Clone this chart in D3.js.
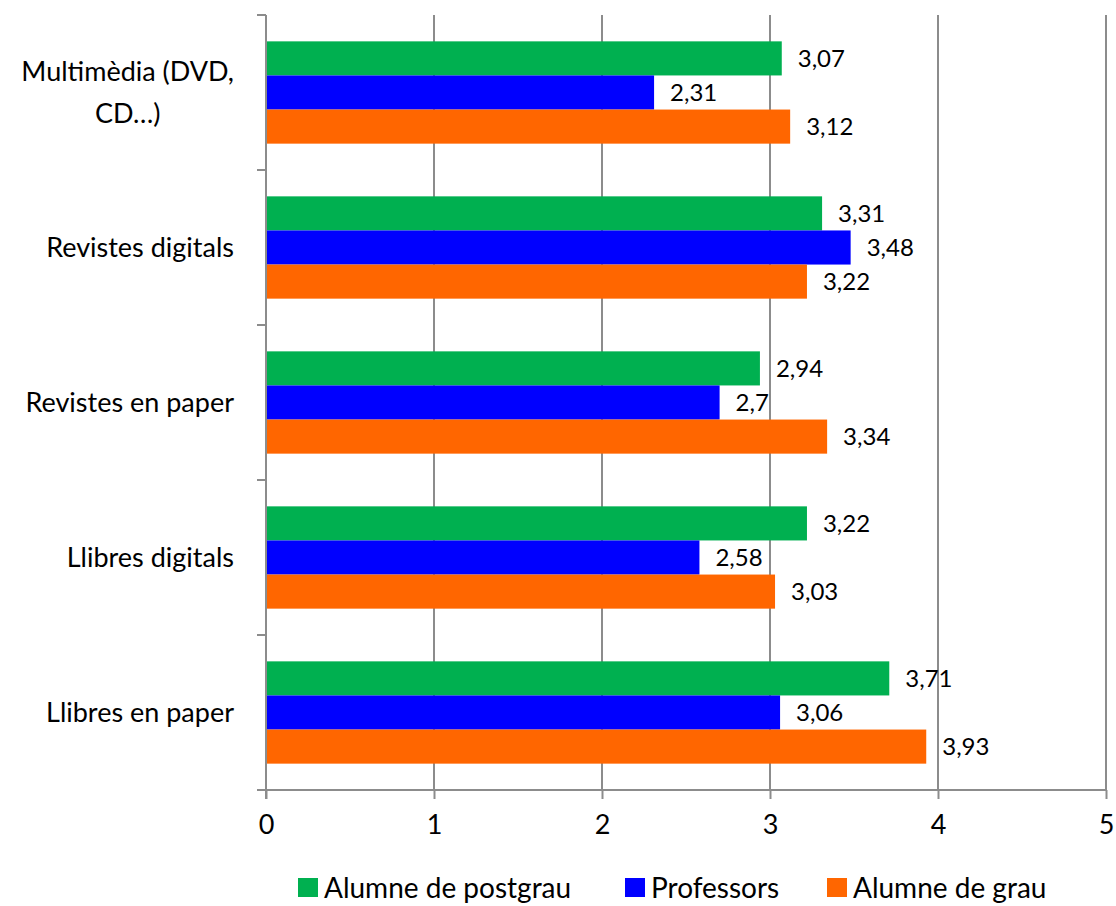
<!DOCTYPE html>
<html>
<head>
<meta charset="utf-8">
<script src="https://cdn.jsdelivr.net/npm/d3@7"></script>
<style>
  html, body { margin: 0; padding: 0; background: #fff; }
  svg { display: block; font-family: "Lato", "Open Sans", sans-serif; }
</style>
</head>
<body>
<svg id="chart" width="1116" height="906"></svg>
<script>
// Categories, top to bottom
const categories = [
  ["Multimèdia (DVD,", "CD…)"],
  ["Revistes digitals"],
  ["Revistes en paper"],
  ["Llibres digitals"],
  ["Llibres en paper"]
];
const seriesNames = ["Alumne de postgrau", "Professors", "Alumne de grau"];
const seriesColors = ["#00B050", "#0000FF", "#FF6600"];
const postgrau   = [3.07, 3.31, 2.94, 3.22, 3.71];
const professors = [2.31, 3.48, 2.70, 2.58, 3.06];
const grau       = [3.12, 3.22, 3.34, 3.03, 3.93];
const xTicks = [0, 1, 2, 3, 4, 5];

const series = [postgrau, professors, grau];
const catKeys = categories.map(c => c.join(" "));

const svg = d3.select("#chart");
const plot = { left: 266, right: 1106, top: 15, bottom: 790 };
const gridColor = "#8c8c8c";

const x = d3.scaleLinear().domain([0, 5]).range([plot.left, plot.right]);
const y = d3.scaleBand().domain(catKeys).range([plot.top, plot.bottom]);
const band = y.bandwidth();
const barH = band * 0.22;
const groupOffset = (band - barH * 3) / 2;

// Vertical gridlines
svg.append("g").selectAll("line")
  .data(xTicks.filter(t => t > 0))
  .join("line")
  .attr("x1", d => x(d)).attr("x2", d => x(d))
  .attr("y1", plot.top).attr("y2", plot.bottom)
  .attr("stroke", gridColor).attr("stroke-width", 2);

// Bars with value labels
const fmt = v => String(v).replace(".", ",");
series.forEach((vals, si) => {
  const g = svg.append("g");
  g.selectAll("rect")
    .data(vals)
    .join("rect")
    .attr("x", x(0) + 1)
    .attr("y", (d, i) => y(catKeys[i]) + groupOffset + si * barH)
    .attr("width", d => x(d) - x(0) - 1)
    .attr("height", barH)
    .attr("fill", seriesColors[si]);
  g.selectAll("text")
    .data(vals)
    .join("text")
    .attr("x", d => x(d) + 16)
    .attr("y", (d, i) => y(catKeys[i]) + groupOffset + si * barH + barH / 2)
    .attr("dy", "0.35em")
    .attr("font-size", 24)
    .attr("fill", "#000")
    .text(d => fmt(d));
});

// X axis
const xAxis = d3.axisBottom(x).tickValues(xTicks).tickSize(9).tickPadding(16).tickFormat(d3.format("d"));
const gx = svg.append("g").attr("transform", `translate(0,${plot.bottom})`).call(xAxis);
gx.select(".domain").remove();
gx.selectAll("line").attr("stroke", gridColor).attr("stroke-width", 2);
gx.selectAll("text").attr("font-size", 27).attr("fill", "#000").attr("font-family", "Lato, sans-serif");
svg.append("line")
  .attr("x1", plot.left - 9).attr("x2", plot.right)
  .attr("y1", plot.bottom).attr("y2", plot.bottom)
  .attr("stroke", gridColor).attr("stroke-width", 2);

// Y axis line and category boundary ticks
svg.append("line")
  .attr("x1", plot.left).attr("x2", plot.left)
  .attr("y1", plot.top).attr("y2", plot.bottom + 9)
  .attr("stroke", gridColor).attr("stroke-width", 2);
const boundaries = catKeys.map(k => y(k)).concat([plot.bottom]);
svg.append("g").selectAll("line")
  .data(boundaries)
  .join("line")
  .attr("x1", plot.left - 9).attr("x2", plot.left)
  .attr("y1", d => d).attr("y2", d => d)
  .attr("stroke", gridColor).attr("stroke-width", 2);

// Category labels (right aligned block, lines centred)
const labelRight = 234;
const lineGap = 42;
categories.forEach((lines, i) => {
  const cy = y(catKeys[i]) + band / 2;
  const g = svg.append("g");
  const texts = lines.map((ln, li) => g.append("text")
    .attr("y", cy + (li - (lines.length - 1) / 2) * lineGap)
    .attr("dy", "0.35em")
    .attr("font-size", 27)
    .attr("fill", "#000")
    .attr("text-anchor", "middle")
    .text(ln));
  const maxW = d3.max(texts, t => t.node().getComputedTextLength());
  texts.forEach(t => t.attr("x", labelRight - maxW / 2));
});

// Legend along the bottom edge
const legendX = [298, 625, 827];
seriesNames.forEach((name, i) => {
  const g = svg.append("g").attr("transform", `translate(${legendX[i]},878)`);
  g.append("rect").attr("width", 20).attr("height", 19).attr("fill", seriesColors[i]);
  g.append("text").attr("x", 26).attr("y", 20)
    .attr("font-size", 28).attr("fill", "#000").text(name);
});
</script>
</body>
</html>
